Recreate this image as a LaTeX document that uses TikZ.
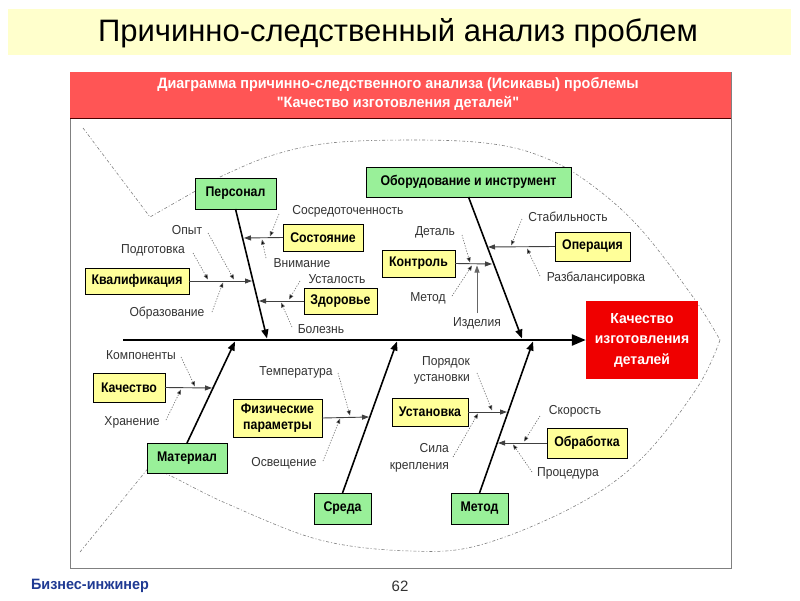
\documentclass[tikz,border=0pt]{standalone}
\usepackage{fontspec}
\setmainfont{Liberation Sans}
\newfontfamily\narrowfont[FakeStretch=0.88]{Liberation Sans}
\newfontfamily\lblfont[FakeStretch=0.93]{Liberation Sans}
\newfontfamily\headfont[FakeStretch=0.96]{Liberation Sans}
\usetikzlibrary{arrows.meta,shadows}
\definecolor{titlebg}{HTML}{FFFFCC}
\definecolor{headred}{HTML}{FF5555}
\definecolor{boxgreen}{HTML}{99F099}
\definecolor{boxyellow}{HTML}{FFFF99}
\definecolor{effred}{HTML}{F00000}
\definecolor{footblue}{HTML}{1F3A93}
\definecolor{lblgray}{HTML}{333333}
\tikzset{
  gbox/.style={draw=black,line width=1pt,fill=boxgreen,inner sep=0pt,outer sep=0pt,align=center,
    font=\narrowfont\fontsize{14}{16}\selectfont\bfseries,
    drop shadow={shadow xshift=1.2pt,shadow yshift=-1.2pt,fill=black!70,opacity=1}},
  ybox/.style={gbox,fill=boxyellow},
  lbl/.style={inner sep=0pt,text=lblgray,font=\lblfont\fontsize{13}{15}\selectfont},
  fish/.style={draw=gray,line width=0.6pt,dash pattern=on 3pt off 2pt on 1pt off 2pt},
  bone/.style={line width=1.6pt,-{Triangle[length=9pt,width=7pt]}},
  subbone/.style={draw=black!75,line width=0.9pt,-{Triangle[length=7pt,width=5pt]}},
  dotarrow/.style={draw=black!60,line width=0.6pt,dash pattern=on 1.2pt off 1.5pt,-{Triangle[length=5pt,width=4pt,fill=black]}},
}
\begin{document}
\begin{tikzpicture}[x=1pt,y=-1pt]
\useasboundingbox (0,0) rectangle (800,600);
\fill[white] (0,0) rectangle (800,600);
% title bar
\fill[titlebg] (8,9) rectangle (791,55);
\node[font=\fontsize{31}{35}\selectfont] (title) at (398,33) {Причинно-следственный анализ проблем};
% frame
\draw[gray,line width=0.8pt,fill=white] (70,72) rectangle (731,568);
\fill[headred] (70,72) rectangle (731,118);
\draw[black!70!red,line width=1pt] (70,118) -- (731,118);
\node[text=white,align=center,font=\headfont\fontsize{15}{19}\selectfont\bfseries] (head) at (398,94)
  {Диаграмма причинно-следственного анализа (Исикавы) проблемы\\"Качество изготовления деталей"};
% fish outline
\draw[fish] (83,128) -- (150,217) -- (220,177);
\draw[fish] plot[smooth,tension=0.6] coordinates {(220,177) (270,156) (330,143) (415,140) (485,143) (535,154) (582,178) (637,225) (693,297) (720,340)};
\draw[fish] (80,552) -- (150,466);
\draw[fish] plot[smooth,tension=0.6] coordinates {(150,466) (175,478) (230,505) (320,540) (410,551) (480,545) (573,507) (640,460) (697,388) (720,340)};
% nodes: main boxes
\node[gbox,minimum width=81pt,minimum height=31pt] (pers) at (235.5,193.5) {Персонал};
\node[gbox,minimum width=205pt,minimum height=30pt] (obor) at (468.5,182) {Оборудование и инструмент};
\node[gbox,minimum width=80pt,minimum height=30pt] (mat) at (187,458) {Материал};
\node[gbox,minimum width=57pt,minimum height=31pt] (sreda) at (342.5,508.5) {Среда};
\node[gbox,minimum width=57pt,minimum height=31pt] (metod) at (479.5,508.5) {Метод};
\node[ybox,minimum width=80pt,minimum height=27pt] (sost) at (323,237.5) {Состояние};
\node[ybox,minimum width=73pt,minimum height=26pt] (zdor) at (340.5,301) {Здоровье};
\node[ybox,minimum width=104pt,minimum height=26pt] (kval) at (137,281) {Квалификация};
\node[ybox,minimum width=75pt,minimum height=29pt] (oper) at (592.5,246.5) {Операция};
\node[ybox,minimum width=73pt,minimum height=27pt] (kontr) at (418.5,263.5) {Контроль};
\node[ybox,minimum width=72pt,minimum height=29pt] (kach) at (129,387.5) {Качество};
\node[ybox,minimum width=89pt,minimum height=38pt,font=\narrowfont\fontsize{14}{16}\selectfont\bfseries] (fiz) at (277.5,418) {Физические\\параметры};
\node[ybox,minimum width=76pt,minimum height=28pt] (ustan) at (430,412) {Установка};
\node[ybox,minimum width=80pt,minimum height=30pt] (obrab) at (587,443) {Обработка};
\node[fill=effred,inner sep=0pt,minimum width=112pt,minimum height=78pt,align=center,text=white,
  font=\headfont\fontsize{14.5}{20.5}\selectfont\bfseries] (eff) at (642,340) {Качество\\изготовления\\деталей};
% labels
\node[lbl] (l1) at (348,211) {Сосредоточенность};
\node[lbl] (l2) at (302,263) {Внимание};
\node[lbl] (l3) at (337,279) {Усталость};
\node[lbl] (l4) at (321,329) {Болезнь};
\node[lbl] (l5) at (187,230) {Опыт};
\node[lbl] (l6) at (153,250) {Подготовка};
\node[lbl] (l7) at (167,313) {Образование};
\node[lbl] (l8) at (568,217) {Стабильность};
\node[lbl] (l9) at (596,278) {Разбалансировка};
\node[lbl] (l10) at (435,232) {Деталь};
\node[lbl] (l11) at (428,298) {Метод};
\node[lbl] (l12) at (477,323) {Изделия};
\node[lbl] (l13) at (141,355) {Компоненты};
\node[lbl] (l14) at (132,422) {Хранение};
\node[lbl] (l15) at (296,372) {Температура};
\node[lbl] (l16) at (284,463) {Освещение};
\node[lbl,anchor=east,align=right,font=\lblfont\fontsize{13}{16}\selectfont] (l17) at (470,370) {Порядок\\установки};
\node[lbl,anchor=east,align=right,font=\lblfont\fontsize{13}{17}\selectfont] (l18) at (449,458) {Сила\\крепления};
\node[lbl] (l19) at (575,411) {Скорость};
\node[lbl] (l20) at (568,473) {Процедура};
% spine
\coordinate (tail) at (123,340);
\draw[line width=2.5pt,-{Triangle[length=14pt,width=11pt]}] (tail) -- (eff.west);
% main bones
\coordinate (bp) at (267,338.5);
\coordinate (bo) at (522,338.5);
\coordinate (bm) at (235,341.5);
\coordinate (bs) at (397,341.5);
\coordinate (bt) at (533,341.5);
\draw[bone] (pers.south) -- (bp);
\draw[bone] (obor.south) -- (bo);
\draw[bone] (mat.north) -- (bm);
\draw[bone] (sreda.north) -- (bs);
\draw[bone] (metod.north) -- (bt);
% sub bones
\coordinate (tsost) at (244,238);
\coordinate (tzdor) at (259,301);
\coordinate (tkval) at (252,281);
\coordinate (toper) at (488,247);
\coordinate (tkontr) at (492,264);
\coordinate (tkach) at (212,388);
\coordinate (tfiz) at (369,417);
\coordinate (tustan) at (507,412);
\coordinate (tobrab) at (498,443);
\draw[subbone] (sost.west) -- (tsost);
\draw[subbone] (zdor.west) -- (tzdor);
\draw[subbone] (kval.east) -- (tkval);
\draw[subbone] (oper.west) -- (toper);
\draw[subbone] (kontr.east) -- (tkontr);
\draw[subbone] (kach.east) -- (tkach);
\draw[subbone] (fiz.east) -- (tfiz);
\draw[subbone] (ustan.east) -- (tustan);
\draw[subbone] (obrab.west) -- (tobrab);
% dotted cause arrows
\draw[dotarrow] (279,214) -- (270,236.5);
\draw[dotarrow] (266,258) -- (262,239.5);
\draw[dotarrow] (300,281) -- (289,299.5);
\draw[dotarrow] (292,327) -- (281,302.5);
\draw[dotarrow] (208,233) -- (234,279.5);
\draw[dotarrow] (193,253) -- (208,279.5);
\draw[dotarrow] (212,312) -- (223,282.5);
\draw[dotarrow] (522,219) -- (511,245.5);
\draw[dotarrow] (540,276) -- (527,248.5);
\draw[dotarrow] (462,235) -- (470,262.5);
\draw[dotarrow] (452,296) -- (472,265.5);
\draw[subbone,draw=black!60,line width=0.7pt] (l12.north -| 477,0) ++(0,-4) -- (477,265.5);
\draw[dotarrow] (181,357) -- (195,386.5);
\draw[dotarrow] (166,420) -- (181,389.5);
\draw[dotarrow] (338,373) -- (350,415.5);
\draw[dotarrow] (323,461) -- (340,418.5);
\draw[dotarrow] (477,373) -- (492,410.5);
\draw[dotarrow] (453,457) -- (478,413.5);
\draw[dotarrow] (540,416) -- (524,441.5);
\draw[dotarrow] (532,472) -- (513,444.5);
% footer
\node[text=footblue,font=\headfont\fontsize{15}{17}\selectfont\bfseries] (foot) at (90,586) {Бизнес-инжинер};
\node[text=black!80,font=\fontsize{15}{17}\selectfont] (page) at (400,586) {62};
\end{tikzpicture}
\end{document}
